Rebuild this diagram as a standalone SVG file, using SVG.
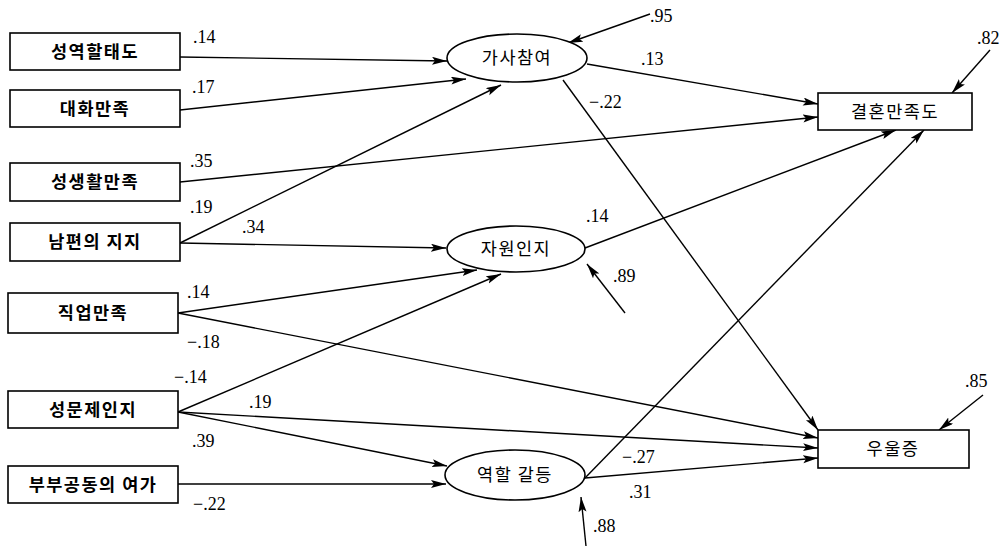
<svg xmlns="http://www.w3.org/2000/svg" width="1008" height="546" viewBox="0 0 1008 546">
<defs>
<marker id="ah" markerUnits="userSpaceOnUse" markerWidth="16" markerHeight="10" refX="15" refY="4" orient="auto">
<path d="M0,0 L15,4 L0,8 L3,4 z" fill="#000"/>
</marker>
<style>
.box{fill:#fff;stroke:#000;stroke-width:1.6}
.ell{fill:#fff;stroke:#000;stroke-width:1.6}
.lbl{font-family:"Noto Sans CJK KR","Noto Sans",sans-serif;font-size:17.5px;letter-spacing:1.5px;text-anchor:middle;fill:#000}
.b{font-weight:bold}
.num{font-family:"Liberation Serif","DejaVu Serif",serif;font-size:18px;fill:#000}
.c{fill:none;stroke:#000;stroke-width:1.4;marker-end:url(#ah)}
</style>
</defs>
<rect width="1008" height="546" fill="#fff"/>
<g id="connectors">
<path class="c" d="M180,57 L447,61"/>
<path class="c" d="M180,110 L466,79"/>
<path class="c" d="M180,182 L818,117"/>
<path class="c" d="M180,243 L501,85"/>
<path class="c" d="M180,243 L446,248"/>
<path class="c" d="M178,313 L477,270"/>
<path class="c" d="M178,313 L818,438"/>
<path class="c" d="M178,412 L501,274"/>
<path class="c" d="M178,412 L818,448"/>
<path class="c" d="M178,412 L447,466"/>
<path class="c" d="M178,484 L446,484"/>
<path class="c" d="M587,64 L818,104"/>
<path class="c" d="M563,80 L818,430"/>
<path class="c" d="M585,248 L896,130"/>
<path class="c" d="M585,478 L924,130"/>
<path class="c" d="M585,478 L818,458"/>
<path class="c" d="M650,14 L568,43"/>
<path class="c" d="M990,50 L952,93"/>
<path class="c" d="M625,313 L587,264"/>
<path class="c" d="M983,395 L939,430"/>
<path class="c" d="M586,546 L581,497"/>
</g>
<g id="n1"><rect class="box" x="10" y="33" width="170" height="37"/><text class="lbl b" x="95" y="58">성역할태도</text></g>
<g id="n2"><rect class="box" x="10" y="90" width="170" height="37"/><text class="lbl b" x="95" y="115">대화만족</text></g>
<g id="n3"><rect class="box" x="10" y="163" width="170" height="38"/><text class="lbl b" x="95" y="188">성생활만족</text></g>
<g id="n4"><rect class="box" x="10" y="223" width="170" height="38"/><text class="lbl b" x="95" y="248">남편의 지지</text></g>
<g id="n5"><rect class="box" x="8" y="293" width="170" height="40"/><text class="lbl b" x="93" y="319">직업만족</text></g>
<g id="n6"><rect class="box" x="8" y="391" width="170" height="37"/><text class="lbl b" x="93" y="416">성문제인지</text></g>
<g id="n7"><rect class="box" x="8" y="466" width="170" height="37"/><text class="lbl b" x="93" y="491">부부공동의 여가</text></g>
<g id="n8"><ellipse class="ell" cx="517" cy="58" rx="70" ry="24"/><text class="lbl" x="517" y="64">가사참여</text></g>
<g id="n9"><ellipse class="ell" cx="516" cy="249" rx="69" ry="23"/><text class="lbl" x="516" y="255">자원인지</text></g>
<g id="n10"><ellipse class="ell" cx="515" cy="475" rx="70" ry="25"/><text class="lbl" x="515" y="481">역할 갈등</text></g>
<g id="n11"><rect class="box" x="818" y="93" width="154" height="37"/><text class="lbl" x="895" y="118">결혼만족도</text></g>
<g id="n12"><rect class="box" x="818" y="430" width="151" height="38"/><text class="lbl" x="893" y="455">우울증</text></g>
<g id="labels">
<text class="num" x="193" y="43">.14</text>
<text class="num" x="192" y="93">.17</text>
<text class="num" x="190" y="167">.35</text>
<text class="num" x="190" y="213">.19</text>
<text class="num" x="242" y="233">.34</text>
<text class="num" x="187" y="298">.14</text>
<text class="num" x="187" y="348">−.18</text>
<text class="num" x="174" y="383">−.14</text>
<text class="num" x="249" y="408">.19</text>
<text class="num" x="192" y="447">.39</text>
<text class="num" x="193" y="510">−.22</text>
<text class="num" x="641" y="65">.13</text>
<text class="num" x="589" y="108">−.22</text>
<text class="num" x="586" y="222">.14</text>
<text class="num" x="622" y="463">−.27</text>
<text class="num" x="629" y="498">.31</text>
<text class="num" x="650" y="22">.95</text>
<text class="num" x="977" y="44">.82</text>
<text class="num" x="613" y="282">.89</text>
<text class="num" x="965" y="387">.85</text>
<text class="num" x="593" y="532">.88</text>
</g>
</svg>
